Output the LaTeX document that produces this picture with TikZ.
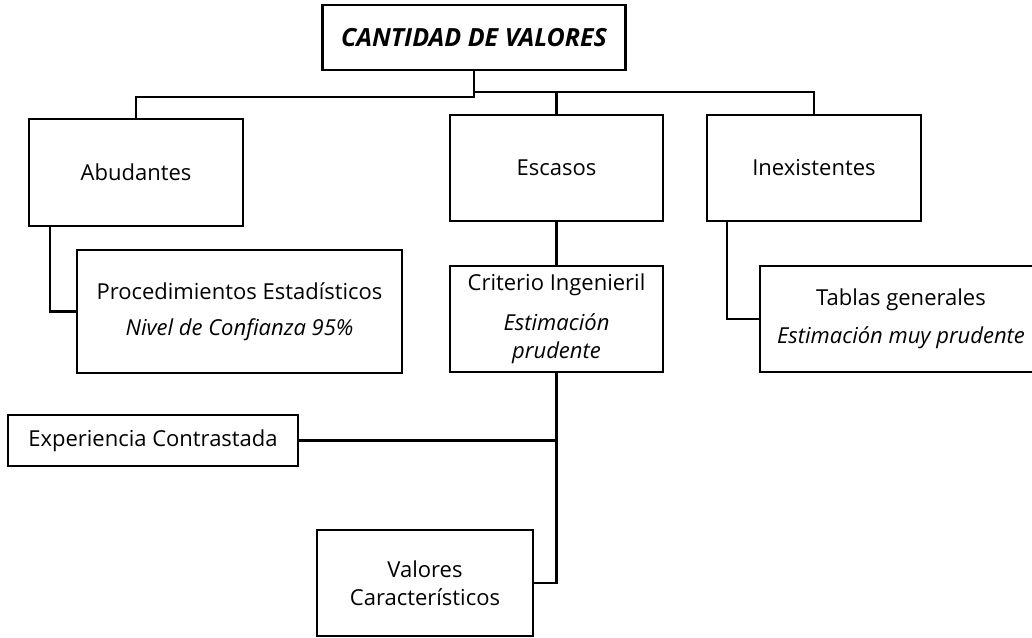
\documentclass[tikz,border=0pt]{standalone}
\usepackage{fontspec}
\setmainfont{Open Sans}
\begin{document}
\begin{tikzpicture}[x=1pt,y=-1pt,
  box/.style={draw=black,line width=2.4pt,inner sep=0pt,align=center,
    font=\fontsize{22}{28}\selectfont},
  conn/.style={draw=black,line width=2.4pt}]
\useasboundingbox[fill=white] (0,0) rectangle (1032,637);
\node[box,minimum width=303pt,minimum height=65pt,font=\fontsize{25}{30}\selectfont\bfseries\itshape] (top) at (474,37.5) {CANTIDAD DE VALORES};
\node[box,minimum width=214pt,minimum height=107pt] (abu) at (136,172.5) {Abudantes};
\node[box,minimum width=213pt,minimum height=106pt] (esc) at (556.5,168) {Escasos};
\node[box,minimum width=214pt,minimum height=106pt] (inex) at (814,168) {Inexistentes};
\node[box,minimum width=325pt,minimum height=123pt] (proc) at (239.5,311.5) {Procedimientos Estadísticos\\[8pt]\textit{Nivel de Confianza 95\%}};
\node[box,minimum width=213pt,minimum height=106pt] (crit) at (556.5,319) {Criterio Ingenieril\\[12pt]\textit{Estimación}\\\textit{prudente}};
\node[box,minimum width=282pt,minimum height=106pt] (tab) at (901,319) {Tablas generales\\[10pt]\textit{Estimación muy prudente}};
\node[box,minimum width=290pt,minimum height=51pt] (exp) at (153,440.5) {Experiencia Contrastada};
\node[box,minimum width=216pt,minimum height=106pt] (val) at (425,583) {Valores\\Característicos};
\coordinate (jL) at (474,97);
\coordinate (jR) at (474,92);
\draw[conn] (top.south) -- (jL) -| (abu.north);
\draw[conn] (jR) -| (esc.north);
\draw[conn] (jR) -| (inex.north);
\draw[conn] ([xshift=22pt]abu.south west) |- (proc.west);
\draw[conn] (esc.south) -- (crit.north);
\draw[conn] ([xshift=21pt]inex.south west) |- (tab.west);
\draw[conn] (crit.south) |- (val.east);
\draw[conn] (exp.east) -- (exp.east -| crit.south);
\end{tikzpicture}
\end{document}
